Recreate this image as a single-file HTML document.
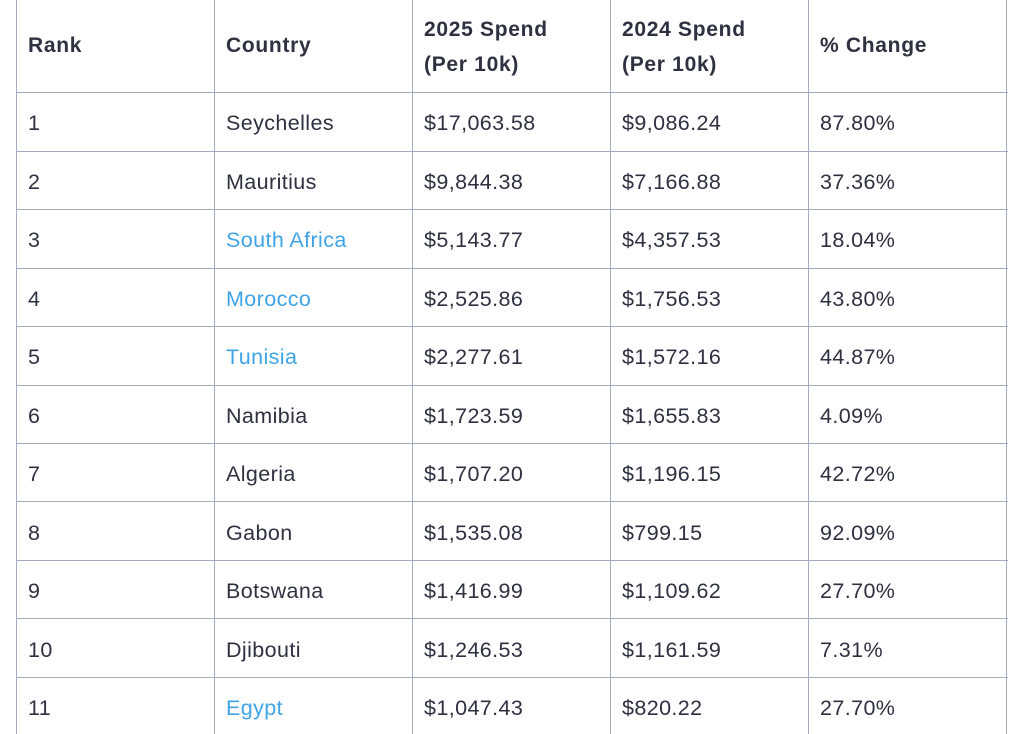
<!DOCTYPE html>
<html><head><meta charset="utf-8"><style>
body{margin:0;width:1024px;height:734px;overflow:hidden;background:#fff;font-family:"Liberation Sans",sans-serif;color:#2d3140;}
.h{position:absolute;background:#a3abbf;height:1px;left:16px;width:992px}
.v{position:absolute;background:#a3abbf;width:1px;top:0;height:734px}
.t{position:absolute;font-size:21.5px;line-height:30px;white-space:nowrap;letter-spacing:0.4px}
.b{font-weight:bold;font-size:21px;letter-spacing:0.7px}
.l{color:#3fa4e6}
</style></head><body>
<div class="v" style="left:16px"></div><div class="v" style="left:214px"></div><div class="v" style="left:412px"></div><div class="v" style="left:610px"></div><div class="v" style="left:808px"></div><div class="v" style="left:1006px"></div>
<div class="h" style="top:92px"></div><div class="h" style="top:151px"></div><div class="h" style="top:209px"></div><div class="h" style="top:268px"></div><div class="h" style="top:326px"></div><div class="h" style="top:385px"></div><div class="h" style="top:443px"></div><div class="h" style="top:501px"></div><div class="h" style="top:560px"></div><div class="h" style="top:618px"></div><div class="h" style="top:677px"></div>
<div class="t b" style="left:28px;top:31px">Rank</div>
<div class="t b" style="left:226px;top:31px">Country</div>
<div class="t b" style="left:424px;top:12px;line-height:35px">2025 Spend<br>(Per 10k)</div>
<div class="t b" style="left:622px;top:12px;line-height:35px">2024 Spend<br>(Per 10k)</div>
<div class="t b" style="left:820px;top:31px">% Change</div>
<div id="rows"></div>
<script>
var d=[["1","Seychelles","$17,063.58","$9,086.24","87.80%",0],["2","Mauritius","$9,844.38","$7,166.88","37.36%",0],["3","South Africa","$5,143.77","$4,357.53","18.04%",1],["4","Morocco","$2,525.86","$1,756.53","43.80%",1],["5","Tunisia","$2,277.61","$1,572.16","44.87%",1],["6","Namibia","$1,723.59","$1,655.83","4.09%",0],["7","Algeria","$1,707.20","$1,196.15","42.72%",0],["8","Gabon","$1,535.08","$799.15","92.09%",0],["9","Botswana","$1,416.99","$1,109.62","27.70%",0],["10","Djibouti","$1,246.53","$1,161.59","7.31%",0],["11","Egypt","$1,047.43","$820.22","27.70%",1]];
var h="",xs=[28,226,424,622,820];
d.forEach(function(r,i){var y=108+i*58.5;for(var c=0;c<5;c++){h+='<div class="t'+(c==1&&r[5]?' l':'')+'" style="left:'+xs[c]+'px;top:'+y+'px">'+r[c]+'</div>';}});
document.getElementById("rows").innerHTML=h;
</script>
</body></html>
